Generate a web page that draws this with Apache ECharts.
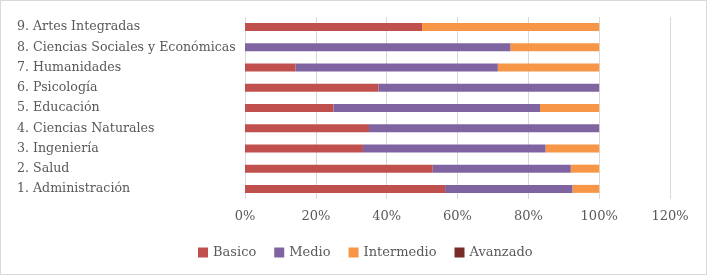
<!DOCTYPE html>
<html>
<head>
<meta charset="utf-8">
<script src="https://cdn.jsdelivr.net/npm/echarts@6/dist/echarts.min.js"></script>
<style>
  html, body { margin: 0; padding: 0; background: #fff; }
  #chart { width: 705px; height: 273px; border: 1px solid #d9d9d9; }
</style>
</head>
<body>
<div id="chart"></div>
<script>
// categorías (de abajo hacia arriba)
const categories = [
  "1. Administración",
  "2. Salud",
  "3. Ingeniería",
  "4. Ciencias Naturales",
  "5. Educación",
  "6. Psicología",
  "7. Humanidades",
  "8. Ciencias Sociales y Económicas",
  "9. Artes Integradas"
];
// porcentajes por nivel
const basico = [56.5, 53, 33.3, 35, 25, 37.7, 14.3, 0, 50];
const medio = [36, 39, 51.6, 65, 58.3, 62.3, 57.1, 75, 0];
const intermedio = [7.5, 8, 15.1, 0, 16.7, 0, 28.6, 25, 50];
const avanzado = [0, 0, 0, 0, 0, 0, 0, 0, 0];
const xTicks = [0, 20, 40, 60, 80, 100, 120];

const font = "'DejaVu Serif', serif";
const textColor = "#595959";

const chart = echarts.init(document.getElementById("chart"));

function barSeries(name, data, color) {
  return {
    name: name,
    type: "bar",
    stack: "total",
    data: data,
    barWidth: 8,
    itemStyle: { color: color },
  };
}

const option = {
  animation: false,
  textStyle: { fontFamily: font },
  grid: {
    left: 244,
    right: 36,
    top: 16,
    bottom: 75,
  },
  legend: {
    bottom: 10,
    left: 192,
    itemWidth: 10,
    itemHeight: 10,
    itemGap: 18,
    icon: "rect",
    textStyle: { color: textColor, fontSize: 13, fontFamily: font },
    data: ["Basico", "Medio", "Intermedio", "Avanzado"],
  },
  xAxis: {
    type: "value",
    min: xTicks[0],
    max: xTicks[xTicks.length - 1],
    interval: 20,
    axisLine: { show: false },
    axisTick: { show: false },
    splitLine: { lineStyle: { color: "#d9d9d9" } },
    axisLabel: {
      color: textColor,
      fontSize: 13,
      margin: 11,
      formatter: (v) => v + "%",
    },
  },
  yAxis: {
    type: "category",
    data: categories,
    axisLine: { show: false },
    axisTick: { show: false },
    axisLabel: {
      color: textColor,
      fontSize: 12.6,
      margin: 8,
      align: "left",
      padding: [5, 0, 0, -220],
    },
  },
  series: [
    barSeries("Basico", basico, "#C0504D"),
    barSeries("Medio", medio, "#8064A2"),
    barSeries("Intermedio", intermedio, "#F79646"),
    barSeries("Avanzado", avanzado, "#772C2A"),
  ],
};

chart.setOption(option);
</script>
</body>
</html>
